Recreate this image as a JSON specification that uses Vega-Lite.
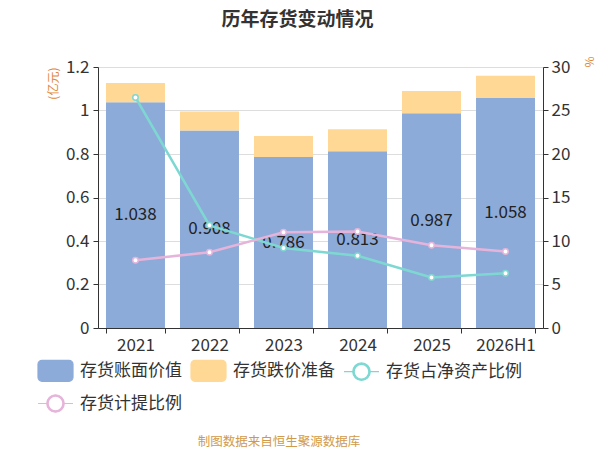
{
  "$schema": "https://vega.github.io/schema/vega-lite/v6.json",
  "autosize": {"type": "none"},
  "width": 445,
  "height": 261,
  "padding": {"top": 67, "left": 98, "right": 57, "bottom": 122},
  "background": "white",
  "config": {
    "font": "Noto Sans CJK SC",
    "view": {"stroke": null}
  },
  "title": {
    "text": "历年存货变动情况",
    "fontSize": 19,
    "fontWeight": "bold",
    "color": "#333333",
    "frame": "group",
    "anchor": "middle",
    "dx": -23,
    "offset": 26
  },
  "data": {
    "values": [
      {"year": "2021", "series": "存货账面价值", "value": 1.038},
      {"year": "2022", "series": "存货账面价值", "value": 0.908},
      {"year": "2023", "series": "存货账面价值", "value": 0.786},
      {"year": "2024", "series": "存货账面价值", "value": 0.813},
      {"year": "2025", "series": "存货账面价值", "value": 0.987},
      {"year": "2026H1", "series": "存货账面价值", "value": 1.058},
      {"year": "2021", "series": "存货跌价准备", "value": 0.088},
      {"year": "2022", "series": "存货跌价准备", "value": 0.087},
      {"year": "2023", "series": "存货跌价准备", "value": 0.097},
      {"year": "2024", "series": "存货跌价准备", "value": 0.101},
      {"year": "2025", "series": "存货跌价准备", "value": 0.103},
      {"year": "2026H1", "series": "存货跌价准备", "value": 0.102},
      {"year": "2021", "series": "存货占净资产比例", "value": 26.5},
      {"year": "2022", "series": "存货占净资产比例", "value": 11.8},
      {"year": "2023", "series": "存货占净资产比例", "value": 9.2},
      {"year": "2024", "series": "存货占净资产比例", "value": 8.3},
      {"year": "2025", "series": "存货占净资产比例", "value": 5.8},
      {"year": "2026H1", "series": "存货占净资产比例", "value": 6.3},
      {"year": "2021", "series": "存货计提比例", "value": 7.8},
      {"year": "2022", "series": "存货计提比例", "value": 8.7},
      {"year": "2023", "series": "存货计提比例", "value": 11.0},
      {"year": "2024", "series": "存货计提比例", "value": 11.1},
      {"year": "2025", "series": "存货计提比例", "value": 9.5},
      {"year": "2026H1", "series": "存货计提比例", "value": 8.8}
    ]
  },
  "encoding": {
    "x": {
      "field": "year",
      "type": "nominal",
      "sort": null,
      "scale": {"paddingInner": 0.203, "paddingOuter": 0.108},
      "axis": {
        "title": null,
        "labelAngle": 0,
        "labelFontSize": 17,
        "labelColor": "#333333",
        "labelPadding": 4,
        "tickBand": "extent",
        "tickSize": 5,
        "tickColor": "#333333",
        "domainColor": "#333333",
        "grid": false
      }
    }
  },
  "layer": [
    {
      "transform": [{"filter": "datum.series == '存货账面价值' || datum.series == '存货跌价准备'"}],
      "mark": {"type": "bar"},
      "encoding": {
        "y": {
          "field": "value",
          "type": "quantitative",
          "stack": "zero",
          "scale": {"domain": [0, 1.2], "nice": false},
          "axis": {
            "orient": "left",
            "values": [0, 0.2, 0.4, 0.6, 0.8, 1, 1.2],
            "format": "~g",
            "grid": true,
            "gridColor": "#dddddd",
            "domainColor": "#333333",
            "tickColor": "#333333",
            "tickSize": 5,
            "labelFontSize": 17,
            "labelColor": "#333333",
            "labelPadding": 4,
            "title": "(亿元)",
            "titleColor": "#E0873A",
            "titleFontSize": 12,
            "titleFontWeight": "normal",
            "titleAnchor": "end",
            "titlePadding": 5
          }
        },
        "order": {"field": "series", "sort": "ascending"},
        "color": {
          "field": "series",
          "type": "nominal",
          "scale": {
            "domain": ["存货账面价值", "存货跌价准备", "存货占净资产比例", "存货计提比例"],
            "range": ["#8DABD9", "#FFD896", "#7ED8D2", "#E6B4DA"]
          },
          "legend": {
            "orient": "none",
            "legendX": -61,
            "legendY": 285,
            "direction": "horizontal",
            "columns": 3,
            "columnPadding": 6,
            "rowPadding": 1,
            "symbolSize": 1225,
            "labelFontSize": 17,
            "labelColor": "#333333",
            "labelOffset": 6,
            "labelLimit": 300,
            "title": "制图数据来自恒生聚源数据库",
            "titleOrient": "bottom",
            "titleAnchor": "middle",
            "titleFontSize": 12.5,
            "titleFontWeight": "normal",
            "titleColor": "#D09A4A",
            "titlePadding": 21,
            "encode": {
              "symbols": {
                "update": {
                  "shape": {"signal": "(datum.value == '存货账面价值' || datum.value == '存货跌价准备') ? 'M-0.77,-0.6H0.77A0.23,0.23 0 0 1 1,-0.37V0.37A0.23,0.23 0 0 1 0.77,0.6H-0.77A0.23,0.23 0 0 1 -1,0.37V-0.37A0.23,0.23 0 0 1 -0.77,-0.6Z' : 'M-1,0H-0.5M0.5,0H1M0.5,0A0.5,0.5 0 1 1 -0.5,0A0.5,0.5 0 1 1 0.5,0ZM0.42,0A0.42,0.42 0 1 0 -0.42,0A0.42,0.42 0 1 0 0.42,0Z'"},
                  "fill": {"signal": "datum.value == '存货账面价值' ? '#8DABD9' : datum.value == '存货跌价准备' ? '#FFD896' : datum.value == '存货占净资产比例' ? '#7ED8D2' : '#E6B4DA'"},
                  "stroke": {"signal": "datum.value == '存货占净资产比例' ? '#7ED8D2' : datum.value == '存货计提比例' ? '#E6B4DA' : 'transparent'"},
                  "strokeWidth": {"value": 1.2},
                  "opacity": {"value": 1},
                  "fillOpacity": {"value": 1},
                  "strokeOpacity": {"value": 1}
                }
              }
            }
          }
        }
      }
    },
    {
      "transform": [{"filter": "datum.series == '存货账面价值'"}],
      "mark": {"type": "text", "fontSize": 17, "color": "#222222", "baseline": "middle", "align": "center"},
      "encoding": {
        "y": {
          "field": "value",
          "type": "quantitative",
          "scale": {"domain": [0, 2.4], "nice": false},
          "axis": null
        },
        "text": {"field": "value", "type": "quantitative"}
      }
    },
    {
      "transform": [{"filter": "datum.series == '存货占净资产比例' || datum.series == '存货计提比例'"}],
      "mark": {
        "type": "line",
        "strokeWidth": 2.5,
        "point": {"filled": false, "fill": "white", "size": 30, "strokeWidth": 1.5, "opacity": 1}
      },
      "encoding": {
        "y": {
          "field": "value",
          "type": "quantitative",
          "scale": {"domain": [0, 30], "nice": false},
          "axis": {
            "orient": "right",
            "values": [0, 5, 10, 15, 20, 25, 30],
            "grid": false,
            "domainColor": "#333333",
            "tickColor": "#333333",
            "tickSize": 5,
            "labelFontSize": 17,
            "labelColor": "#333333",
            "labelPadding": 3,
            "title": "%",
            "titleColor": "#E0873A",
            "titleFontSize": 12,
            "titleFontWeight": "normal",
            "titleAnchor": "end",
            "titleAngle": 90,
            "titlePadding": 12
          }
        },
        "color": {"field": "series", "type": "nominal"}
      }
    }
  ],
  "resolve": {"scale": {"y": "independent"}, "axis": {"y": "independent"}}
}
